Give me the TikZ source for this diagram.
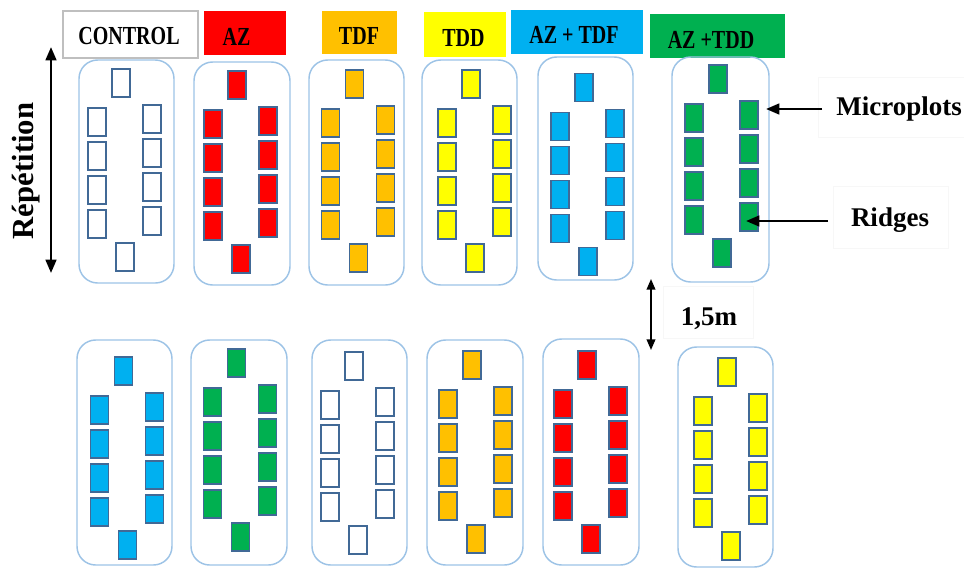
\documentclass[tikz,border=0pt]{standalone}
\usepackage{fontspec}
\setmainfont{Liberation Serif}
\newfontfamily\hdrfont[FakeStretch=0.77]{Liberation Serif}
\usetikzlibrary{arrows.meta,fit}
\definecolor{panelc}{RGB}{157,195,230}
\definecolor{plotb}{RGB}{65,105,150}
\definecolor{cAZ}{RGB}{255,0,0}
\definecolor{cTDF}{RGB}{255,192,0}
\definecolor{cTDD}{RGB}{255,255,0}
\definecolor{cAZTDF}{RGB}{0,176,240}
\definecolor{cAZTDD}{RGB}{0,176,80}
\definecolor{hdrb}{RGB}{191,191,191}
\tikzset{
  panel/.style={draw=panelc, line width=1.1pt, rounded corners=14pt, inner sep=0pt},
  mplot/.style={draw=plotb, line width=1.1pt, minimum width=13.5pt, minimum height=21pt, inner sep=0pt},
  hdrbox/.style={inner sep=0pt},
  hdrtxt/.style={font=\hdrfont\bfseries\fontsize{19.5}{20}\selectfont, inner sep=0pt, anchor=base},
  lbl/.style={font=\bfseries\fontsize{20.25}{22}\selectfont, inner sep=0pt, anchor=base},
  faint/.style={draw=black!3, line width=0.5pt, inner sep=0pt},
  bigarrow/.style={line width=1.9pt, {Triangle[length=10pt,width=8pt]}-{Triangle[length=10pt,width=8pt]}},
  smallarrow/.style={line width=1.3pt, {Triangle[length=8pt,width=6.5pt]}-{Triangle[length=8pt,width=6.5pt]}},
  ptrarrow/.style={line width=1.9pt, -{Triangle[length=10pt,width=8pt]}}
}
% #1 name, #2-#5 panel box, #6-#7 pattern origin, #8 fill
\newcommand\plotpanel[8]{%
  \node[panel, fit={(#2,#3) (#4,#5)}] (#1) {};
  \begin{scope}[shift={(#6,#7)}]
    \node[mplot, fill=#8] (#1-t) at (43,23) {};
    \node[mplot, fill=#8] (#1-l1) at (19,62) {};
    \node[mplot, fill=#8] (#1-l2) at (19,96) {};
    \node[mplot, fill=#8] (#1-l3) at (19,130) {};
    \node[mplot, fill=#8] (#1-l4) at (19,164) {};
    \node[mplot, fill=#8] (#1-r1) at (74,59) {};
    \node[mplot, fill=#8] (#1-r2) at (74,93) {};
    \node[mplot, fill=#8] (#1-r3) at (74,127) {};
    \node[mplot, fill=#8] (#1-r4) at (74,161) {};
    \node[mplot, fill=#8] (#1-b) at (47,197) {};
  \end{scope}}
\begin{document}
\begin{tikzpicture}[x=0.75pt,y=-0.75pt]
\useasboundingbox (0,0) rectangle (964,568);
% headers
\node[hdrbox, draw=hdrb, line width=1pt, fill=white, fit={(63,11) (198,58)}] (hC) {};
\node[hdrbox, fill=cAZ, fit={(204,11) (286,55)}] (hAZ) {};
\node[hdrbox, fill=cTDF, fit={(322,11) (397,54)}] (hTDF) {};
\node[hdrbox, fill=cTDD, fit={(424,12) (506,57)}] (hTDD) {};
\node[hdrbox, fill=cAZTDF, fit={(511,10) (643,54)}] (hAZTDF) {};
\node[hdrbox, fill=cAZTDD, fit={(650,14) (785,58)}] (hAZTDD) {};
\node[hdrtxt] (tC) at (129,44) {CONTROL};
\node[hdrtxt] (tAZ) at (236.5,45) {AZ};
\node[hdrtxt] (tTDF) at (359,44) {TDF};
\node[hdrtxt] (tTDD) at (463.5,46) {TDD};
\node[hdrtxt] (tAZTDF) at (574,43) {AZ + TDF};
\node[hdrtxt] (tAZTDD) at (711,48) {AZ +TDD};
% top row
\plotpanel{T1}{79}{60}{174}{283}{78}{60}{white}
\plotpanel{T2}{194}{62}{290}{285}{194}{62}{cAZ}
\plotpanel{T3}{309}{60}{404}{285}{311.5}{61}{cTDF}
\plotpanel{T4}{422}{60}{517}{285}{428}{61}{cTDD}
\plotpanel{T5}{538}{57}{633}{280}{541}{64.5}{cAZTDF}
\plotpanel{T6}{672}{57}{769}{282}{675}{56}{cAZTDD}
% bottom row
\plotpanel{B1}{77}{340}{172}{565}{80.5}{348}{cAZTDF}
\plotpanel{B2}{191}{340}{287}{565}{193.5}{340}{cAZTDD}
\plotpanel{B3}{312}{340}{407}{565}{311}{343}{white}
\plotpanel{B4}{427}{340}{523}{565}{429}{342}{cTDF}
\plotpanel{B5}{543}{339}{639}{565}{544}{342}{cAZ}
\plotpanel{B6}{678}{347}{773}{567}{684}{349}{cTDD}
% repetition
\node[lbl, font=\bfseries\fontsize{23}{24}\selectfont, rotate=90] (rep) at (33,171) {Répétition};
\coordinate (repT) at (51,47);
\coordinate (repB) at (51,273);
\draw[bigarrow] (repT) -- (repB);
% spacing
\node[faint, fit={(663,286) (753,338)}] (sbox) {};
\node[lbl] (sp) at (709,325) {1,5m};
\coordinate (spT) at (651,279);
\coordinate (spB) at (651,350);
\draw[smallarrow] (spT) -- (spB);
% labels
\node[faint, fit={(818,77) (966,137)}] (mbox) {};
\node[lbl] (micro) at (899,115) {Microplots};
\node[faint, fit={(833,186) (948,248)}] (rbox) {};
\node[lbl] (ridg) at (890,226) {Ridges};
\coordinate (mS) at (822,109);
\coordinate (mE) at (766,109);
\draw[ptrarrow] (mS) -- (mE);
\coordinate (rS) at (828,221);
\coordinate (rE) at (746,221);
\draw[ptrarrow] (rS) -- (rE);
\end{tikzpicture}
\end{document}
